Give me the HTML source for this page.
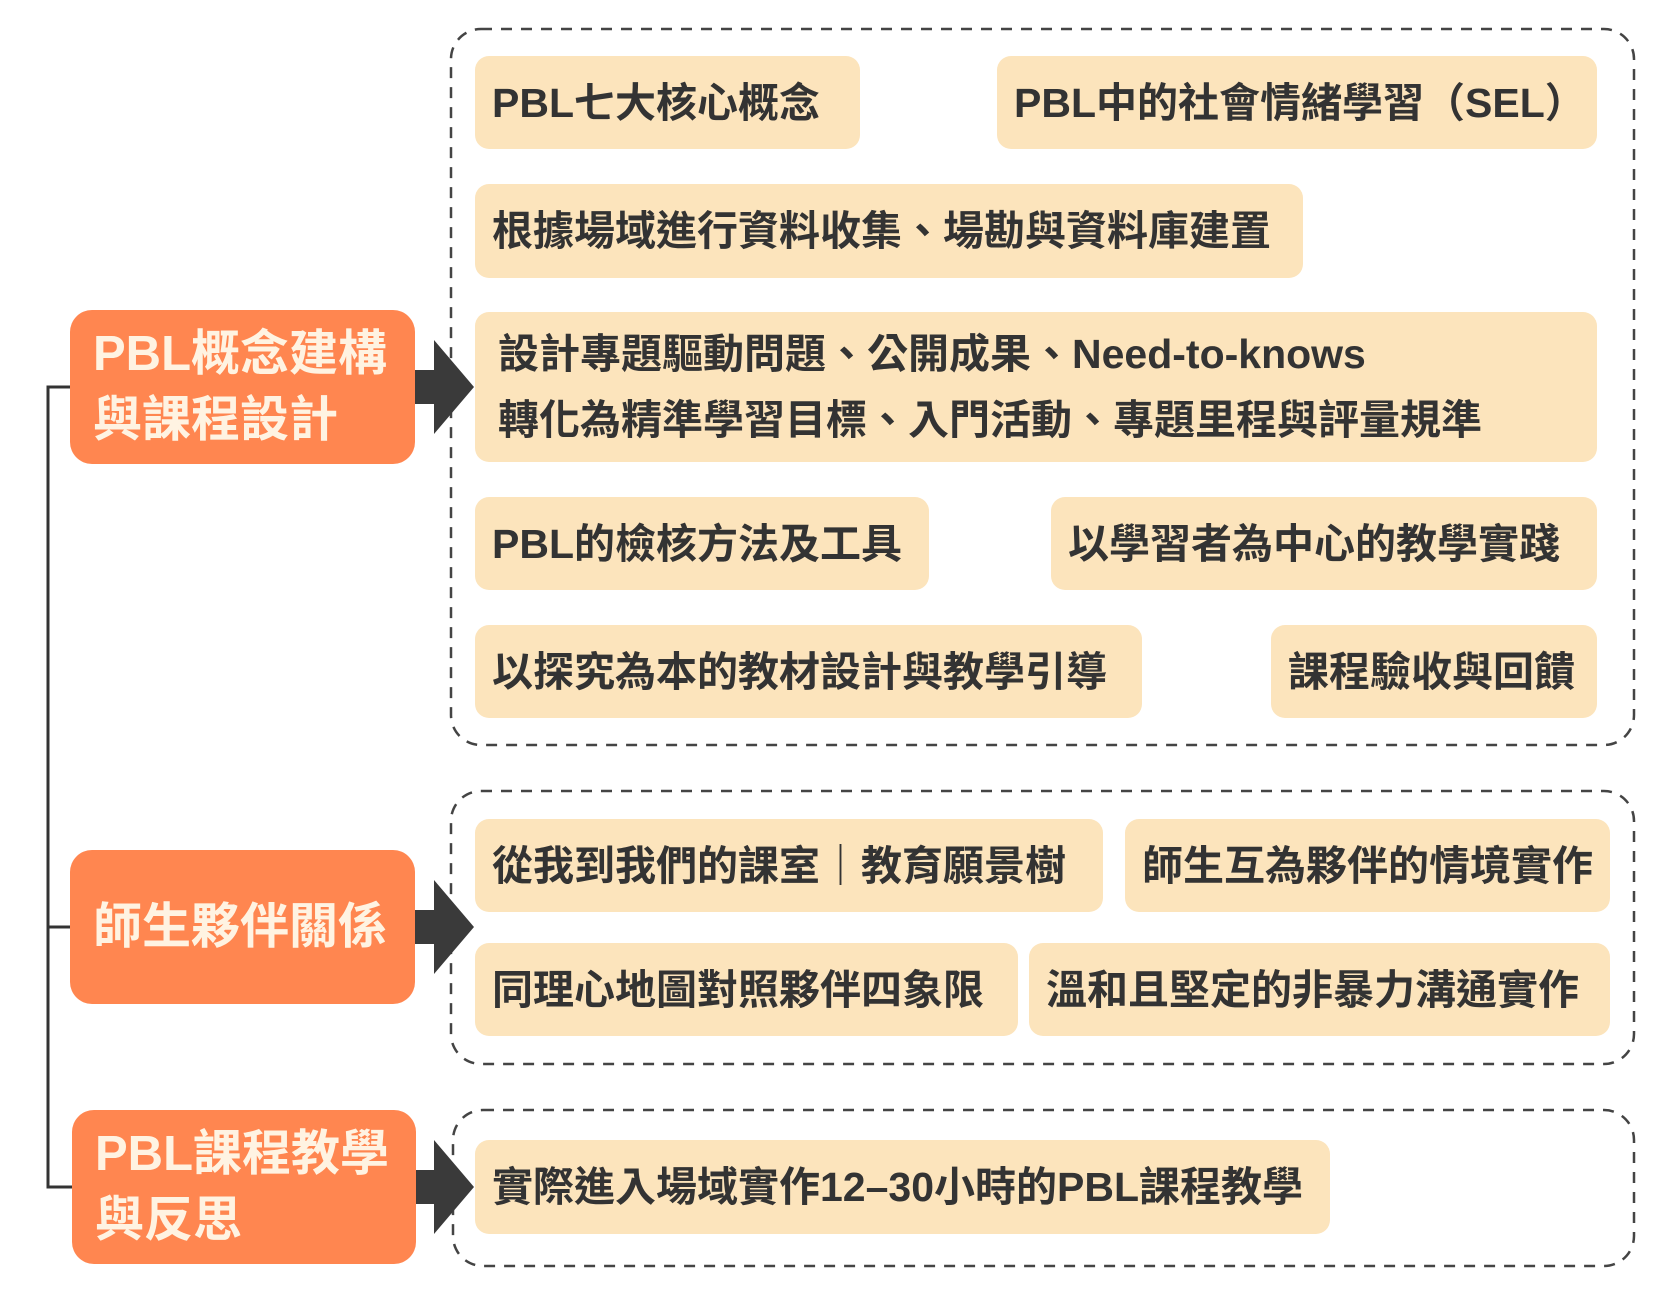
<!DOCTYPE html>
<html><head><meta charset="utf-8"><style>
body{margin:0;width:1667px;height:1295px;background:#fff;position:relative;overflow:hidden;font-family:"Liberation Sans","Noto Sans CJK TC",sans-serif;}
.b{position:absolute;background:#FCE4BC;border-radius:14px;color:#333;font-size:41px;font-weight:bold;display:flex;align-items:center;padding-left:17px;box-sizing:border-box;white-space:nowrap;line-height:66px;}
.o{position:absolute;background:#FF8650;border-radius:22px;color:#FFF3E2;font-size:49px;font-weight:bold;display:flex;align-items:center;padding-left:23px;box-sizing:border-box;line-height:66px;white-space:nowrap;}
svg{position:absolute;left:0;top:0;}
</style></head><body>
<svg width="1667" height="1295">
<g fill="none" stroke="#444" stroke-width="2.5" stroke-dasharray="11 9">
<rect x="451" y="29" width="1183" height="716" rx="30"/>
<rect x="451" y="791" width="1183" height="273" rx="30"/>
<rect x="453" y="1110" width="1181" height="156" rx="30"/>
</g>
<path d="M70 387 H48 V1187 H72 M48 927 H70" fill="none" stroke="#333" stroke-width="3"/>
<g fill="#3a3a3a">
<path d="M415 370 H434 V340 L474 387 L434 434 V404 H415Z"/>
<path d="M415 910 H434 V880 L474 927 L434 974 V944 H415Z"/>
<path d="M416 1170 H434 V1140 L474 1187 L434 1234 V1204 H416Z"/>
</g>
</svg>
<div class="o" style="left:70px;top:310px;width:345px;height:154px">PBL概念建構<br>與課程設計</div>
<div class="o" style="left:70px;top:850px;width:345px;height:154px">師生夥伴關係</div>
<div class="o" style="left:72px;top:1110px;width:344px;height:154px">PBL課程教學<br>與反思</div>

<div class="b" style="left:475px;top:56px;width:385px;height:93px">PBL七大核心概念</div>
<div class="b" style="left:997px;top:56px;width:600px;height:93px">PBL中的社會情緒學習（SEL）</div>
<div class="b" style="left:475px;top:184px;width:828px;height:94px">根據場域進行資料收集、場勘與資料庫建置</div>
<div class="b" style="left:475px;top:312px;width:1122px;height:150px;padding-left:23px">設計專題驅動問題、公開成果、Need-to-knows<br>轉化為精準學習目標、入門活動、專題里程與評量規準</div>
<div class="b" style="left:475px;top:497px;width:454px;height:93px">PBL的檢核方法及工具</div>
<div class="b" style="left:1051px;top:497px;width:546px;height:93px">以學習者為中心的教學實踐</div>
<div class="b" style="left:475px;top:625px;width:667px;height:93px">以探究為本的教材設計與教學引導</div>
<div class="b" style="left:1271px;top:625px;width:326px;height:93px">課程驗收與回饋</div>
<div class="b" style="left:475px;top:819px;width:628px;height:93px">從我到我們的課室｜教育願景樹</div>
<div class="b" style="left:1125px;top:819px;width:485px;height:93px">師生互為夥伴的情境實作</div>
<div class="b" style="left:475px;top:943px;width:543px;height:93px">同理心地圖對照夥伴四象限</div>
<div class="b" style="left:1029px;top:943px;width:581px;height:93px">溫和且堅定的非暴力溝通實作</div>
<div class="b" style="left:475px;top:1140px;width:855px;height:94px">實際進入場域實作12–30小時的PBL課程教學</div>
</body></html>
